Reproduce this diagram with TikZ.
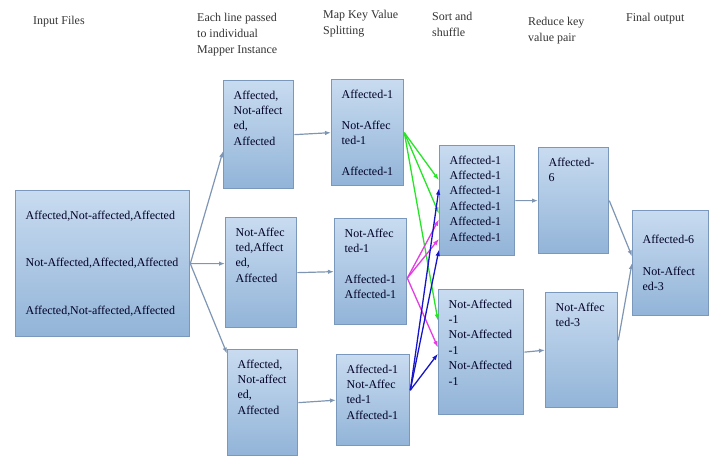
\documentclass[tikz,border=0pt]{standalone}
\usepackage{fontspec}
\setmainfont{Liberation Serif}
\usetikzlibrary{arrows.meta,shadings}
\definecolor{boxtop}{RGB}{200,219,240}
\definecolor{boxbot}{RGB}{146,180,216}
\definecolor{boxline}{RGB}{122,152,188}
\definecolor{flowgray}{RGB}{126,150,180}
\definecolor{mapgreen}{RGB}{40,228,40}
\definecolor{mappink}{RGB}{226,60,226}
\definecolor{mapblue}{RGB}{22,22,200}
% text inside a block: [pos]{height}{width}{lines}
\newcommand{\boxlines}[4][t]{\parbox[c][#2][#1]{#3}{\exhyphenpenalty=10000 \raggedright #4}}

\begin{document}
\begin{tikzpicture}[x=1bp,y=-1bp,
    every node/.style={font=\fontsize{12}{15.5}\selectfont},
    box/.style={draw=boxline, line width=1.3bp, top color=boxtop, bottom color=boxbot,
      inner xsep=10bp, inner ysep=10bp, anchor=north west, text=black!85!blue},
    hdr/.style={anchor=north west, inner sep=0pt, align=left,
      font=\fontsize{12}{16}\selectfont, text=black!80},
    flow/.style={draw=flowgray, line width=1.2bp, -{Latex[length=6bp,width=4.5bp]}},
    pair/.style={line width=1.3bp, -{Latex[length=6.5bp,width=4.5bp]}}]
    \useasboundingbox (0,0) rectangle (713,459);
    % column titles
    \node[hdr] (hin) at (33,16.3) {Input Files};
    \node[hdr] (hmapper) at (197,13.3) {Each line passed\\to individual\\Mapper Instance};
    \node[hdr] (hsplit) at (323,10.3) {Map Key Value\\Splitting};
    \node[hdr] (hsort) at (432,12.3) {Sort and\\shuffle};
    \node[hdr] (hreduce) at (528,17.3) {Reduce key\\value pair};
    \node[hdr] (hfinal) at (626,13.3) {Final output};
    % blocks
    \node[box] (in) at (15,190) {\boxlines[c]{126bp}{154bp}{Affected,Not-affected,Affected\\[32bp]Not-Affected,Affected,Affected\\[32bp]Affected,Not-affected,Affected}};
    \node[box] (m1) at (223,80) {\boxlines{88bp}{50bp}{Affected,\\Not-affect\\ed,\\Affected}};
    \node[box] (m2) at (225,217) {\boxlines{90bp}{51bp}{Not-Affec\\ted,Affect\\ed,\\Affected}};
    \node[box] (m3) at (227,349) {\boxlines{86bp}{50bp}{Affected,\\Not-affect\\ed,\\Affected}};
    \node[box] (k1) at (331,79) {\boxlines{86bp}{52bp}{Affected-1\\[15.5bp]Not-Affec\\ted-1\\[15.5bp]Affected-1}};
    \node[box] (k2) at (334,218) {\boxlines{86bp}{52bp}{Not-Affec\\ted-1\\[15.5bp]Affected-1\\Affected-1}};
    \node[box] (k3) at (336,354) {\boxlines{71bp}{53bp}{Affected-1\\Not-Affec\\ted-1\\Affected-1}};
    \node[box] (s1) at (439,145) {\boxlines{90bp}{55bp}{Affected-1\\Affected-1\\Affected-1\\Affected-1\\Affected-1\\Affected-1}};
    \node[box] (s2) at (438,289) {\boxlines{105bp}{65bp}{Not-Affected\\-1\\Not-Affected\\-1\\Not-Affected\\-1}};
    \node[box] (r1) at (538,147) {\boxlines{86bp}{50bp}{Affected-\\6}};
    \node[box] (r2) at (545,292) {\boxlines{95bp}{52bp}{Not-Affec\\ted-3}};
    \node[box] (f) at (632,210) {\boxlines[c]{85bp}{56bp}{Affected-6\\[16bp]Not-Affect\\ed-3}};
    % flow between stages
    \foreach \from/\to in
    {in.east/m1.205, in.east/m2.166, in.east/m3.126,
     m1.east/k1.west, m2.east/k2.west, m3.east/k3.west,
     s1.east/r1.west, s2.east/r2.west, r1.east/f.170, r2.15/f.180}
    \draw[flow] (\from) -- (\to);
    % shuffle of key value pairs
    \foreach \to in {s1.152, s1.199, s2.144}
    \draw[pair, mapgreen] (k1.east) -- (\to);
    \foreach \to in {s1.206, s1.225, s2.174}
    \draw[pair, mappink] (k2.350) -- (\to);
    \foreach \to in {s1.162, s1.232, s2.182}
    \draw[pair, mapblue] (k3.15) -- (\to);
  \end{tikzpicture}
\end{document}
